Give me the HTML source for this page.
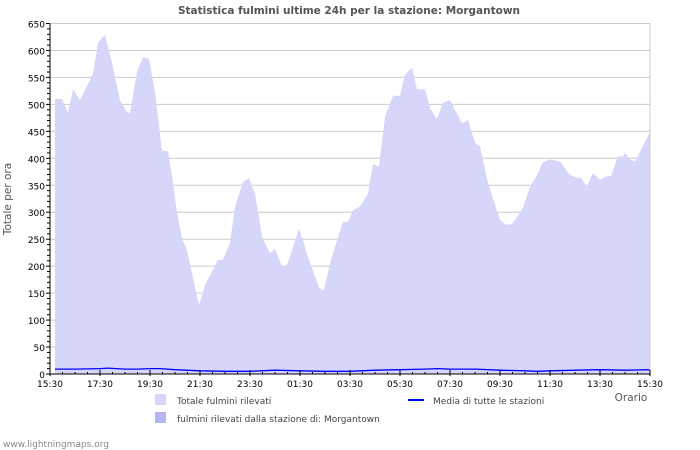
<!DOCTYPE html>
<html><head><meta charset="utf-8"><style>
body{margin:0;background:#fff;}
svg{display:block;font-family:"DejaVu Sans","Liberation Sans",sans-serif;}
</style></head><body>
<svg id="chart" width="700" height="450">
<text x="349" y="14" text-anchor="middle" font-size="10.5" font-weight="bold" fill="#555">Statistica fulmini ultime 24h per la stazione: Morgantown</text>
<text transform="translate(11,199) rotate(-90)" text-anchor="middle" font-size="10.5" fill="#555">Totale per ora</text>
<text x="631" y="401" text-anchor="middle" font-size="10.5" fill="#555">Orario</text>
<rect x="155" y="394" width="11" height="11" fill="#d6d6fa"/>
<text x="177" y="404" font-size="9" fill="#444">Totale fulmini rilevati</text>
<rect x="155" y="412" width="11" height="11" fill="#b4b4f6"/>
<text x="177" y="422" font-size="9" fill="#444">fulmini rilevati dalla stazione di: Morgantown</text>
<line x1="408" y1="400" x2="424" y2="400" stroke="#0000ff" stroke-width="2"/>
<text x="433" y="404" font-size="9" fill="#444">Media di tutte le stazioni</text>
<text x="3" y="447" font-size="9" fill="#888">www.lightningmaps.org</text>
</svg>
<script>
// hours since 15:30 and totals
const totalHours=[0.2,0.48,0.72,0.92,1.2,1.6,1.72,1.92,2.2,2.48,2.8,3.08,3.2,3.48,3.72,3.96,4.2,4.48,4.72,4.92,5.08,5.28,5.48,5.68,5.96,6.2,6.52,6.72,6.92,7.2,7.4,7.72,7.96,8.2,8.48,8.8,9.0,9.28,9.48,9.72,9.96,10.2,10.28,10.76,10.96,11.2,11.72,11.92,12.12,12.4,12.72,12.92,13.16,13.4,13.72,14.0,14.2,14.48,14.68,15.0,15.2,15.48,15.72,16.0,16.2,16.48,16.72,17.0,17.2,17.48,17.8,18.0,18.24,18.48,18.68,18.92,19.2,19.48,19.72,20.0,20.4,20.8,21.08,21.24,21.48,21.72,22.0,22.2,22.44,22.72,22.92,23.0,23.2,23.4,23.6,24.0];
const totalValues=[510,510,484,528,508,545,558,614,629,577,508,485,484,560,588,584,523,414,413,355,299,252,230,187,128,165,193,212,212,243,310,356,363,335,254,224,232,200,202,235,269,236,222,160,155,206,282,282,304,310,335,389,385,477,516,516,555,568,528,528,493,473,503,508,490,465,471,429,422,361,314,286,277,278,291,308,347,369,393,398,394,369,364,364,347,373,360,366,367,404,404,410,398,394,412,449];
const avgHours=[0.2,1,2,2.3,3,3.5,4,4.4,5,6,7,8,9,10,11,12,13,14,15,15.5,16,17,18,19,19.5,20,21,22,23,24];
const avgValues=[9,9,10,11,9,9,10,10,8,6,5,5,7,6,5,5,7,8,9,10,9,9,7,6,5,6,7,8,7,8];
const yTicks=[0,50,100,150,200,250,300,350,400,450,500,550,600,650];
const xTickLabels=["15:30","17:30","19:30","21:30","23:30","01:30","03:30","05:30","07:30","09:30","11:30","13:30","15:30"];

const NS="http://www.w3.org/2000/svg";
const svg=document.getElementById('chart');
const X0=50,X1=650,Y0=374,Y1=23.5,YMAX=650,HMAX=24;
function sx(h){return X0+(X1-X0)*h/HMAX;}
function sy(v){return Y0-(Y0-Y1)*v/YMAX;}
function mk(tag,attrs){const e=document.createElementNS(NS,tag);for(const k in attrs)e.setAttribute(k,attrs[k]);svg.appendChild(e);return e;}

const grid=mk('g',{});


yTicks.forEach(v=>{
  const l=document.createElementNS(NS,'line');
  l.setAttribute('x1',X0);l.setAttribute('x2',X1);l.setAttribute('y1',sy(v));l.setAttribute('y2',sy(v));
  l.setAttribute('stroke','#cccccc');l.setAttribute('stroke-width','1');
  
  
  grid.appendChild(l);
});

let d='M'+sx(totalHours[0])+','+sy(0);
totalHours.forEach((h,i)=>{d+=' L'+sx(h).toFixed(1)+','+sy(totalValues[i]).toFixed(1);});
d+=' L'+sx(totalHours[totalHours.length-1])+','+sy(0)+' Z';
const area=mk('path',{d:d,fill:'#d6d6fa'});



let d2='';
avgHours.forEach((h,i)=>{d2+=(i?' L':'M')+sx(h).toFixed(1)+','+sy(avgValues[i]).toFixed(1);});
const avg=mk('path',{d:d2,fill:'none',stroke:'#0000ff','stroke-width':1.3});



const frame=mk('rect',{x:X0,y:Y1,width:X1-X0,height:Y0-Y1,fill:'none',stroke:'#cccccc'});


const ax=mk('line',{x1:X0,x2:X0,y1:Y1,y2:Y0,stroke:'#000'});


const bx=mk('line',{x1:X0,x2:X1,y1:Y0,y2:Y0,stroke:'#000'});



for(let v=0;v<=YMAX;v+=10){
  const big=v%50===0;
  const t=mk('line',{x1:X0-(big?4:3),x2:X0,y1:sy(v),y2:sy(v),stroke:'#000'});
  
  
}
yTicks.forEach(v=>{
  const t=mk('text',{x:X0-5,y:sy(v)+4,'text-anchor':'end','font-size':'9',fill:'#000'});
  t.textContent=v;
  
  
});
for(let h=0;h<=HMAX;h+=0.5){
  const big=h%2===0;
  const t=mk('line',{x1:sx(h),x2:sx(h),y1:Y0-(big?4:2),y2:Y0+(big?2:0),stroke:'#000'});
  
  
}
xTickLabels.forEach((s,i)=>{
  const t=mk('text',{x:sx(i*2),y:Y0+13,'text-anchor':'middle','font-size':'9',fill:'#000'});
  t.textContent=s;
  
  
});
</script>
</body></html>
